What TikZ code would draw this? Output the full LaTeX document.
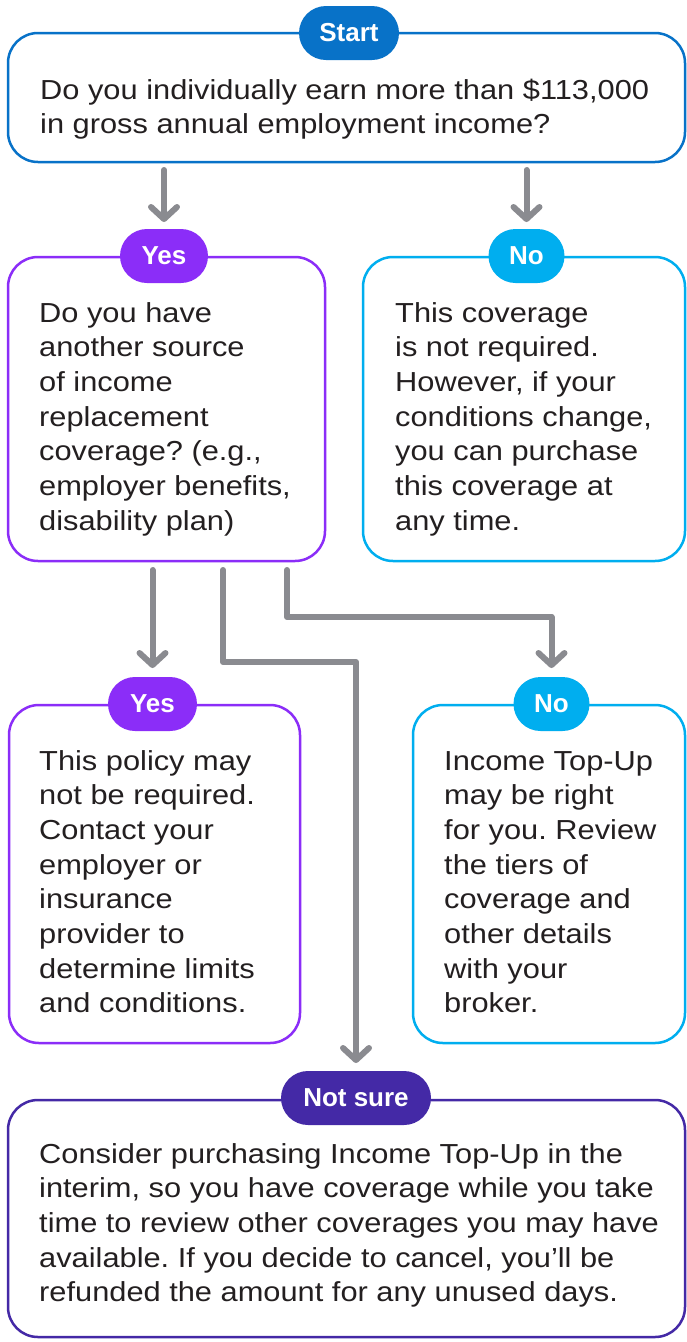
\documentclass[tikz,border=0pt]{standalone}
\usepackage{fontspec}
\setmainfont{Liberation Sans}[FakeStretch=1.12]
\newfontfamily\pillfont{Liberation Sans}
\usetikzlibrary{arrows.meta}
\definecolor{cStart}{RGB}{8,114,200}
\definecolor{cYes}{RGB}{139,45,248}
\definecolor{cNo}{RGB}{0,174,239}
\definecolor{cNot}{RGB}{68,41,166}
\definecolor{cArrow}{RGB}{138,139,144}
\definecolor{cText}{RGB}{35,31,32}
\newcommand\txtlines[1]{\begin{tabular}[t]{@{}l@{}}#1\end{tabular}}
\frenchspacing
\begin{document}
\begin{tikzpicture}[x=1pt,y=-1pt,
 box/.style={draw=#1, line width=2.5pt, rounded corners=30pt, inner sep=0pt, outer sep=0pt},
 pill/.style={fill=#1, rounded corners=27pt, minimum height=54pt, inner sep=0pt, outer sep=0pt, text=white, font=\pillfont\bfseries\fontsize{26}{30}\selectfont},
 txt/.style={anchor=base west, inner sep=0pt, text=cText, font=\frenchspacing\fontsize{27.5}{34.7}\selectfont},
 arr/.style={draw=cArrow, line width=6pt, line cap=round, line join=round, -{Straight Barb[round, length=12pt, width=26pt]}}]
\fill[white] (0,0) rectangle (686,1342);
\useasboundingbox (0,0) rectangle (686,1342);

% boxes
\node[box=cStart, minimum width=677pt, minimum height=129pt] (q1) at (346.5,97.5) {};
\node[box=cYes, minimum width=317pt, minimum height=304pt] (b2) at (166.5,409) {};
\node[box=cNo, minimum width=322pt, minimum height=304pt] (b3) at (524,409) {};
\node[box=cYes, minimum width=291pt, minimum height=338pt] (b4) at (154.5,874) {};
\node[box=cNo, minimum width=272pt, minimum height=338pt] (b5) at (549,874) {};
\node[box=cNot, minimum width=677pt, minimum height=237pt] (b6) at (346.5,1218.5) {};

% pills
\node[pill=cStart, minimum width=100pt] (start) at (349,33) {Start};
\node[pill=cYes, minimum width=88pt] (yes1) at (164,256) {Yes};
\node[pill=cNo, minimum width=76pt] (no1) at (526.5,256) {No};
\node[pill=cYes, minimum width=89pt] (yes2) at (152.5,704) {Yes};
\node[pill=cNo, minimum width=76pt] (no2) at (551.5,704) {No};
\node[pill=cNot, minimum width=150pt] (ns) at (356,1098) {Not sure};

% texts
\node[txt] (t1) at (40,99) {\txtlines{Do you individually earn more than \$113,000\\in gross annual employment income?}};
\node[txt] (t2) at (39,322) {\txtlines{Do you have\\another source\\of income\\replacement\\coverage? (e.g.,\\employer benefits,\\disability plan)}};
\node[txt] (t3) at (395,322) {\txtlines{This coverage\\is not required.\\However, if your\\conditions change,\\you can purchase\\this coverage at\\any time.}};
\node[txt] (t4) at (39,770) {\txtlines{This policy may\\not be required.\\Contact your\\employer or\\insurance\\provider to\\determine limits\\and conditions.}};
\node[txt] (t5) at (444,770) {\txtlines{Income Top-Up\\may be right\\for you. Review\\the tiers of\\coverage and\\other details\\with your\\broker.}};
\node[txt] (t6) at (39,1163) {\txtlines{Consider purchasing Income Top-Up in the\\interim, so you have coverage while you take\\time to review other coverages you may have\\available. If you decide to cancel, you’ll be\\refunded the amount for any unused days.}};

% connectors
\draw[arr] ([yshift=-8pt]q1.south -| yes1.north) -- ([yshift=7pt]yes1.north);
\draw[arr] ([yshift=-8pt]q1.south -| no1.north) -- ([yshift=7pt]no1.north);
\draw[arr] ([yshift=-9pt]b2.south -| yes2.north) -- ([yshift=9pt]yes2.north);
\draw[arr] ([xshift=56.5pt,yshift=-9pt]b2.south) |- ([yshift=-101pt]b2.south -| ns.north) -- ([yshift=8pt]ns.north);
\draw[arr] ([xshift=120.5pt,yshift=-9pt]b2.south) |- ([yshift=-56pt]b2.south -| no2.north) -- ([yshift=9pt]no2.north);
\end{tikzpicture}
\end{document}
